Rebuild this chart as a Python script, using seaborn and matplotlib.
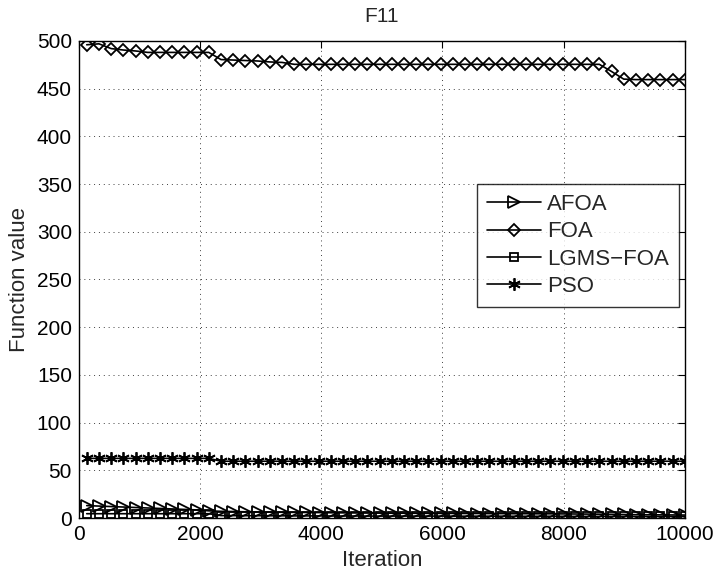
import numpy as np
import pandas as pd
import matplotlib
matplotlib.use("Agg")
import matplotlib.pyplot as plt
import seaborn as sns

# Sampled iterations (one recorded value every ~200 iterations)
iterations = np.linspace(130, 10000, 50)

afoa = [13.0, 12.5, 12.0, 11.5, 11.0, 10.5, 10.0, 9.5, 9.0, 8.5,
        7.5, 7.0, 6.8, 6.5, 6.3, 6.2, 6.0, 5.9, 5.8, 5.7,
        5.5, 5.4, 5.3, 5.2, 5.1, 5.0, 5.0, 4.9, 4.9, 4.8,
        4.8, 4.7, 4.7, 4.6, 4.6, 4.5, 4.5, 4.4, 4.4, 4.3,
        4.2, 4.1, 4.0, 3.9, 3.7, 3.5, 3.4, 3.3, 3.2, 3.1]

foa = [496, 497, 492, 490.5, 489.5, 488, 488, 488, 488, 488,
       488, 480.5, 480, 479.5, 479, 478, 477.5, 475.5, 475.5, 475.5,
       475.5, 475.5, 475.5, 475.5, 475.5, 475.5, 475.5, 475.5, 475.5, 475.5,
       475.5, 475.5, 475.5, 475.5, 475.5, 475.5, 475.5, 475.5, 475.5, 475.5,
       475.5, 475.5, 475.5, 468, 460, 459.5, 459.5, 459.5, 459.5, 459.5]

lgms_foa = [4.5, 4.5, 4.5, 4.5, 4.5, 4.5, 4.5, 4.5, 4.5, 4.5,
            4.5, 2.5, 2.5, 2.4, 2.4, 2.3, 2.3, 2.2, 2.2, 2.2,
            2.1, 2.1, 2.1, 2.0, 2.0, 2.0, 2.0, 2.0, 2.0, 2.0,
            1.9, 1.9, 1.9, 1.9, 1.9, 1.8, 1.8, 1.8, 1.8, 1.8,
            1.7, 1.7, 1.7, 1.7, 1.7, 1.6, 1.6, 1.6, 1.6, 1.6]

pso = [62.5] * 11 + [59.5] * 39

labels = ["AFOA", "FOA", "LGMS−FOA", "PSO"]
series = [afoa, foa, lgms_foa, pso]

sns.set_style("white")
plt.rcParams["font.family"] = ["Liberation Sans", "DejaVu Sans"]

fig = plt.figure(figsize=(7.17, 5.72), dpi=100)
ax = fig.add_axes([0.110, 0.0944, 0.845, 0.834])

styles = {
    "AFOA": dict(marker=">", markersize=9),
    "FOA": dict(marker="D", markersize=6),
    "LGMS−FOA": dict(marker="s", markersize=5.5),
    "PSO": dict(marker=(6, 2, 0), markersize=9),
}

for name, vals in zip(labels, series):
    df = pd.DataFrame({"Iteration": iterations, "Function value": vals})
    sns.lineplot(data=df, x="Iteration", y="Function value", ax=ax,
                 color="black", linewidth=1.2, markerfacecolor="none",
                 markeredgecolor="black", markeredgewidth=1.3,
                 label=name, **styles[name])

ax.set_xlim(0, 10000)
ax.set_ylim(0, 500)
ax.set_xticks(np.arange(0, 10001, 2000))
ax.set_yticks(np.arange(0, 501, 50))
ax.tick_params(direction="in", length=5, width=0.8, top=True, right=True,
               labelsize=15, colors="black", pad=5)
ax.grid(True, linestyle=(0, (1, 4)), linewidth=0.7, color="0.25")
for s in ax.spines.values():
    s.set_color("black")
    s.set_linewidth(1.0)

ax.set_xlabel("Iteration", fontsize=16, labelpad=4)
ax.set_ylabel("Function value", fontsize=16, labelpad=5)
ax.set_title("F11", fontsize=15, pad=14)

leg = ax.legend(loc="upper right", bbox_to_anchor=(0.99, 0.70), fontsize=16,
                frameon=True, fancybox=False, edgecolor="black",
                handlelength=2.45, labelspacing=0.28, borderpad=0.45,
                handletextpad=0.25, borderaxespad=0)
leg.get_frame().set_linewidth(1.0)

fig.savefig("out.png", dpi=100)
